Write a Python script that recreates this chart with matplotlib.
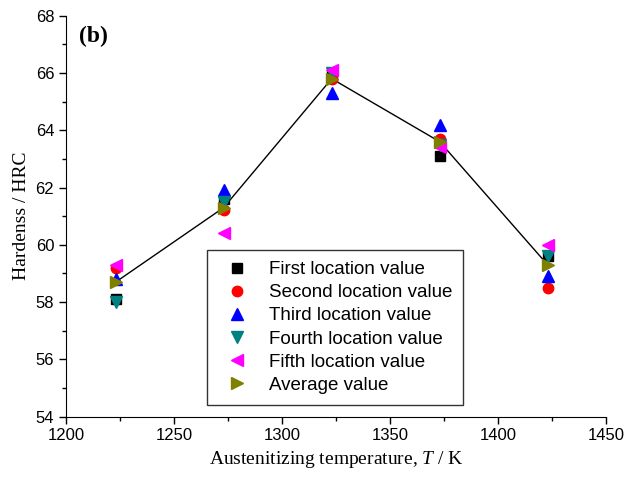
import numpy as np
import matplotlib
matplotlib.use("Agg")
import matplotlib.pyplot as plt
from matplotlib.ticker import MultipleLocator

plt.rcParams["mathtext.fontset"] = "custom"
plt.rcParams["mathtext.rm"] = "Liberation Serif"
plt.rcParams["mathtext.it"] = "Liberation Serif:italic"

# temperaturas (K) y durezas en cada posicion
temps = [1223, 1273, 1323, 1373, 1423]
first = [58.1, 61.6, 65.9, 63.1, 59.6]
second = [59.2, 61.2, 65.8, 63.7, 58.5]
third = [58.8, 61.9, 65.3, 64.2, 58.9]
fourth = [58.0, 61.5, 66.0, 63.5, 59.6]
fifth = [59.3, 60.4, 66.1, 63.4, 60.0]
average = [58.7, 61.3, 65.8, 63.6, 59.3]

fig = plt.figure(figsize=(6.25, 4.82), dpi=100)
ax = fig.add_axes([0.1056, 0.1355, 0.864, 0.832])

ax.plot(temps, average, color="black", lw=1.0, zorder=1)
ax.plot(temps, first, "s", color="black", ms=6.5, ls="none", label="First location value")
ax.plot(temps, second, "o", color="red", ms=7.5, ls="none", label="Second location value")
ax.plot(temps, third, "^", color="blue", ms=8, ls="none", label="Third location value")
ax.plot(temps, fourth, "v", color="#008080", ms=8, ls="none", label="Fourth location value")
ax.plot(temps, fifth, "<", color="magenta", ms=8, ls="none", label="Fifth location value")
ax.plot(temps, average, ">", color="#808000", ms=8, ls="none", label="Average value", zorder=3)

ax.set_xlim(1200, 1450)
ax.set_ylim(54, 68)
ax.xaxis.set_major_locator(MultipleLocator(50))
ax.xaxis.set_minor_locator(MultipleLocator(25))
ax.yaxis.set_major_locator(MultipleLocator(2))
ax.yaxis.set_minor_locator(MultipleLocator(1))
ax.tick_params(which="major", direction="out", length=5, width=1, labelsize=12)
ax.tick_params(which="minor", direction="out", length=3, width=1)
for lab in ax.get_xticklabels() + ax.get_yticklabels():
    lab.set_family("Liberation Sans")

ax.spines["top"].set_visible(False)
ax.spines["right"].set_visible(False)

ax.set_xlabel("Austenitizing temperature, $\\mathit{T}$ / K", family="Liberation Serif", fontsize=14)
ax.set_ylabel("Hardenss / HRC", family="Liberation Serif", fontsize=14)

ax.text(0.024, 0.975, "(b)", transform=ax.transAxes, family="Liberation Serif",
        fontsize=17, fontweight="bold", va="top", ha="left")

leg = ax.legend(loc="upper left", bbox_to_anchor=(0.261, 0.416), borderaxespad=0,
                frameon=True, fancybox=False, edgecolor="black",
                prop={"family": "Liberation Sans", "size": 13.5},
                handletextpad=0.7, labelspacing=0.32, borderpad=0.6, handlelength=2.0)
leg.get_frame().set_linewidth(1)

fig.savefig("out.png", dpi=100)
